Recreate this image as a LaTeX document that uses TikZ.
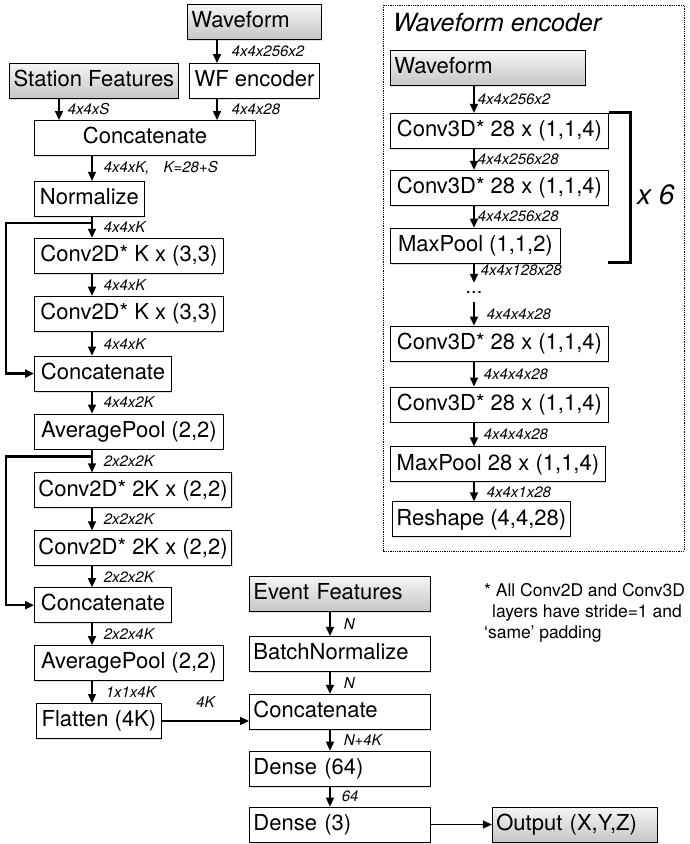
\documentclass[tikz,border=0pt]{standalone}
\usepackage{fontspec}
\setmainfont{TeX Gyre Heros}
\usetikzlibrary{arrows.meta,positioning,calc,shadows}
\newcommand{\boxfont}{\fontsize{22}{26}\selectfont}
\newcommand{\lblfont}{\fontsize{15}{17}\selectfont\itshape}
\newcommand{\notefont}{\fontsize{17.5}{21}\selectfont}

\begin{document}
\begin{tikzpicture}[x=1pt,y=1pt,>={Triangle[length=9pt,width=8pt]},
  blk/.style={draw,line width=0.9pt,fill=white,font=\boxfont,minimum height=35pt,
    inner xsep=4pt,inner ysep=0pt,text height=16.5pt,text depth=5pt,anchor=north west,
    drop shadow={shadow xshift=1pt,shadow yshift=-1.5pt,opacity=0.25}},
  gblk/.style={blk,top color=gray!8,bottom color=gray!45},
  lt/.style={text width=#1,align=left},
  arr/.style={->,line width=1.5pt},
  lab/.style={font=\lblfont,anchor=west,inner sep=0pt},
  skip/.style={->,line width=2.4pt}]
  \useasboundingbox (0,0) rectangle (689,-844);
  \coordinate (lx) at (92,0);
  \coordinate (sx) at (59,0);
  \coordinate (tx) at (217,0);
  \coordinate (mx) at (330,0);
  \coordinate (rx) at (474,0);

  % station branch
  \node[gblk,lt=126pt] (wave) at (187,-4) {Waveform};
  \node[blk,minimum width=130pt] (wfenc) at (189,-63) {WF encoder};
  \node[gblk,minimum width=169pt] (stat) at (9,-63) {Station Features};
  \node[blk,minimum width=221pt] (cat1) at (34,-120) {Concatenate};
  \node[blk,minimum width=110pt,below=25pt of cat1.south west,anchor=north west] (norm) {Normalize};
  \node[blk,minimum width=189pt,below=21pt of norm.south west,anchor=north west] (cv1) {Conv2D* K x (3,3)};
  \node[blk,minimum width=189pt,below=22pt of cv1.south west,anchor=north west] (cv2) {Conv2D* K x (3,3)};
  \node[blk,minimum width=137pt,below=24pt of cv2.south west,anchor=north west] (cat2) {Concatenate};
  \node[blk,minimum width=189pt,below=22pt of cat2.south west,anchor=north west] (pool1) {AveragePool (2,2)};
  \node[blk,minimum width=196pt,below=23pt of pool1.south west,anchor=north west] (cv3) {Conv2D* 2K x (2,2)};
  \node[blk,minimum width=196pt,below=22pt of cv3.south west,anchor=north west] (cv4) {Conv2D* 2K x (2,2)};
  \node[blk,minimum width=137pt,below=21pt of cv4.south west,anchor=north west] (cat3) {Concatenate};
  \node[blk,minimum width=189pt,below=22pt of cat3.south west,anchor=north west] (pool2) {AveragePool (2,2)};
  \node[blk,minimum width=125pt,below=22pt of pool2.south west,anchor=north west,xshift=2pt] (flat) {Flatten (4K)};

  \draw[arr] (wave.south -| tx) -- (wfenc.north -| tx) node[lab,midway,xshift=14pt] {4x4x256x2};
  \draw[arr] (stat.south -| sx) -- (cat1.north -| sx) node[lab,midway,xshift=8pt] {4x4xS};
  \draw[arr] (wfenc.south -| tx) -- (cat1.north -| tx) node[lab,midway,xshift=14pt] {4x4x28};
  \draw[arr] (cat1.south -| lx) -- (norm.north -| lx) node[lab,midway,xshift=11pt] {4x4xK,\hspace{14pt}K=28+S};
  \draw[arr] (norm.south -| lx) -- (cv1.north -| lx) node[lab,midway,xshift=11pt] {4x4xK};
  \draw[arr] (cv1.south -| lx) -- (cv2.north -| lx) node[lab,midway,xshift=11pt] {4x4xK};
  \draw[arr] (cv2.south -| lx) -- (cat2.north -| lx) node[lab,midway,xshift=11pt] {4x4xK};
  \draw[arr] (cat2.south -| lx) -- (pool1.north -| lx) node[lab,midway,xshift=11pt] {4x4x2K};
  \draw[arr] (pool1.south -| lx) -- (cv3.north -| lx) node[lab,midway,xshift=11pt] {2x2x2K};
  \draw[arr] (cv3.south -| lx) -- (cv4.north -| lx) node[lab,midway,xshift=11pt] {2x2x2K};
  \draw[arr] (cv4.south -| lx) -- (cat3.north -| lx) node[lab,midway,xshift=11pt] {2x2x2K};
  \draw[arr] (cat3.south -| lx) -- (pool2.north -| lx) node[lab,midway,xshift=11pt] {2x2x4K};
  \draw[arr] (pool2.south -| lx) -- (flat.north -| lx) node[lab,midway,xshift=13pt] {1x1x4K};

  % skip connections
  \draw[skip] ($(norm.south -| lx)+(0,-6pt)$) -| ($(cat2.west)+(-28pt,0)$) -- (cat2.west);
  \draw[skip] ($(pool1.south -| lx)+(0,-7pt)$) -| ($(cat3.west)+(-28pt,0)$) -- (cat3.west);

  % event branch
  \node[gblk,lt=173pt] (ev) at (249,-576) {Event Features};
  \node[blk,lt=173pt,below=24pt of ev.south west,anchor=north west] (bn) {BatchNormalize};
  \node[blk,lt=173pt,below=22pt of bn.south west,anchor=north west] (cat4) {Concatenate};
  \node[blk,lt=173pt,below=21pt of cat4.south west,anchor=north west] (d64) {Dense (64)};
  \node[blk,lt=173pt,below=20pt of d64.south west,anchor=north west] (d3) {Dense (3)};
  \node[gblk,lt=157pt,right=61pt of d3,anchor=west] (out) {Output (X,Y,Z)};

  \draw[arr] (ev.south -| mx) -- (bn.north -| mx) node[lab,midway,xshift=13pt] {N};
  \draw[arr] (bn.south -| mx) -- (cat4.north -| mx) node[lab,midway,xshift=13pt] {N};
  \draw[arr] (cat4.south -| mx) -- (d64.north -| mx) node[lab,midway,xshift=13pt] {N+4K};
  \draw[arr] (d64.south -| mx) -- (d3.north -| mx) node[lab,midway,xshift=11pt] {64};
  \draw[arr] (flat.east) -- (flat.east -| cat4.west) node[lab,midway,anchor=south,yshift=13pt] {4K};
  \draw[arr] (d3.east) -- (out.west);

  % waveform encoder
  \draw[densely dotted,line width=0.8pt] (383,-5) rectangle (684,-551);
  \node[font=\fontsize{25}{28}\selectfont\itshape,anchor=west,inner sep=0pt] (enctitle) at (393,-23) {Waveform encoder};
  \node[gblk,lt=187pt] (wwave) at (390,-50) {Waveform};
  \node[blk,minimum width=218pt,below=27pt of wwave.south west,anchor=north west] (e1) {Conv3D* 28 x (1,1,4)};
  \node[blk,minimum width=218pt,below=21pt of e1.south west,anchor=north west] (e2) {Conv3D* 28 x (1,1,4)};
  \node[blk,minimum width=170pt,below=22pt of e2.south west,anchor=north west] (e3) {MaxPool (1,1,2)};
  \node[inner sep=0pt,minimum height=19pt,font=\fontsize{20}{20}\selectfont] (dots) at (474,-292.5) {...};
  \node[blk,minimum width=218pt,below=62pt of e3.south west,anchor=north west] (e4) {Conv3D* 28 x (1,1,4)};
  \node[blk,minimum width=218pt,below=25pt of e4.south west,anchor=north west] (e5) {Conv3D* 28 x (1,1,4)};
  \node[blk,minimum width=215pt,below=24pt of e5.south west,anchor=north west] (e6) {MaxPool 28 x (1,1,4)};
  \node[blk,minimum width=130pt,below=19pt of e6.south west,anchor=north west,xshift=2pt] (e7) {Reshape (4,4,28)};

  \draw[arr] (wwave.south -| rx) -- (e1.north -| rx) node[lab,midway,xshift=3pt] {4x4x256x2};
  \draw[arr] (e1.south -| rx) -- (e2.north -| rx) node[lab,midway,xshift=3pt] {4x4x256x28};
  \draw[arr] (e2.south -| rx) -- (e3.north -| rx) node[lab,midway,xshift=3pt] {4x4x256x28};
  \draw[arr] (e3.south -| rx) -- (dots.north) node[lab,midway,xshift=6pt,yshift=3pt] {4x4x128x28};
  \draw[arr] (dots.south) -- (e4.north -| rx) node[lab,midway,xshift=12pt] {4x4x4x28};
  \draw[arr] (e4.south -| rx) -- (e5.north -| rx) node[lab,midway,xshift=9pt] {4x4x4x28};
  \draw[arr] (e5.south -| rx) -- (e6.north -| rx) node[lab,midway,xshift=9pt] {4x4x4x28};
  \draw[arr] (e6.south -| rx) -- (e7.north -| rx) node[lab,midway,xshift=12pt] {4x4x1x28};

  % repeat bracket
  \draw[line width=3pt] (e1.north east) -- ++(22pt,0) -- ++(0,-150pt) -- ++(-23pt,0);
  \node[font=\fontsize{28}{30}\selectfont\itshape,anchor=west,inner sep=0pt] (rep) at (637,-195) {x 6};

  % footnote
  \node[font=\notefont,align=left,anchor=north west,inner sep=0pt] (note) at (484,-583)
    {* All Conv2D and Conv3D\\\hspace*{8pt}layers have stride=1 and\\‘same’ padding};
\end{tikzpicture}
\end{document}
